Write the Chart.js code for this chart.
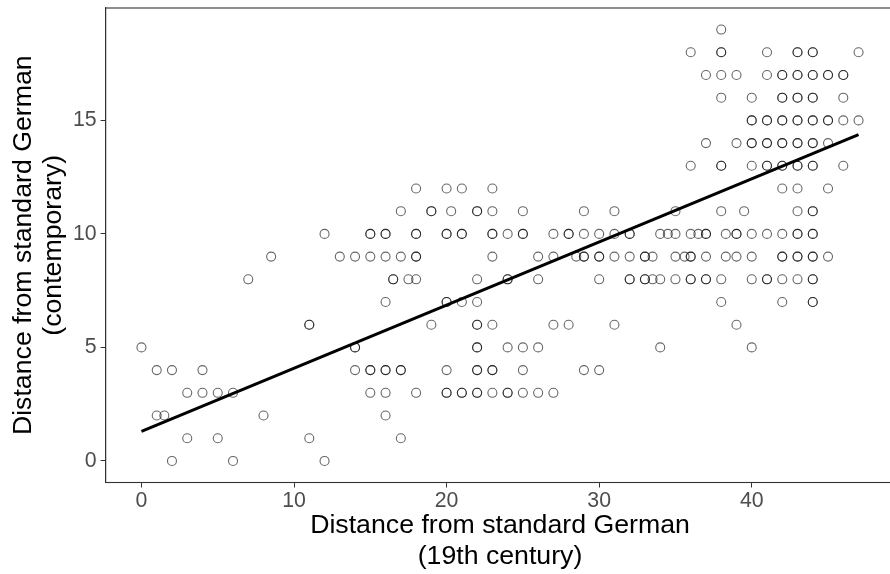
<!DOCTYPE html>
<html>
<head>
<meta charset="utf-8">
<script src="https://cdn.jsdelivr.net/npm/chart.js@4"></script>
<style>
  html, body { margin: 0; padding: 0; background: #fff; overflow: hidden; }
  #wrap { width: 900px; height: 574px; }
</style>
</head>
<body>
<div id="wrap"><canvas id="dialect-chart"></canvas></div>
<script>
// distance from standard German: 19th century (x) vs contemporary (y)
const yLevels = [0, 1, 2, 3, 4, 5, 6, 7, 8, 9, 10, 11, 12, 13, 14, 15, 16, 17, 18, 19]
const xByLevel = [
    [2, 6, 12],
    [3, 5, 11, 17],
    [1, 1.5, 8, 16],
    [3, 4, 5, 6, 15, 16, 18, 20, 21, 22, 23, 24, 25, 26, 27],
    [1, 2, 4, 14, 15, 16, 17, 20, 22, 23, 25, 29, 30],
    [0, 14, 22, 24, 25, 26, 34, 40],
    [11, 19, 22, 23, 27, 28, 31, 39],
    [16, 20, 21, 22, 38, 42, 44],
    [7, 16.5, 17.5, 18, 22, 24, 26, 30, 32, 33, 33.5, 34, 35, 36, 37, 38, 40, 41, 42, 43, 44],
    [8.5, 13, 14, 15, 16, 17, 18, 23, 26, 27, 28.5, 29, 30, 31, 32, 33, 33.5, 35, 35.6, 36, 37, 38.3, 39, 40, 42, 43, 44, 45],
    [12, 15, 16, 18, 20, 21, 23, 24, 25, 27, 28, 29, 30, 31, 32, 34, 34.5, 35, 36, 36.5, 37, 38.3, 39, 40, 41, 42, 43, 44],
    [17, 19, 20.3, 22, 23, 25, 29, 31, 35, 38, 39.5, 43, 44],
    [18, 20, 21, 23, 42, 43, 45],
    [36, 38, 40, 41, 42, 43, 44, 46],
    [37, 39, 40, 41, 42, 43, 44, 45],
    [40, 41, 42, 43, 44, 45, 46, 47],
    [38, 40, 42, 43, 44, 46],
    [37, 38, 39, 41, 42, 43, 44, 45, 46],
    [36, 38, 41, 43, 44, 47],
    [38]
]
// places where two observations fall on the same spot (darker rings)
const doubledByLevel = [
    [], [], [],
    [20, 21, 22, 24],
    [15, 16, 17, 22, 23],
    [14, 22],
    [11, 22],
    [20, 44],
    [16.5, 24, 32, 33, 36, 37, 41, 44],
    [18, 29, 30, 33, 36, 42, 43, 44],
    [15, 16, 18, 20, 21, 23, 25, 28, 32, 37, 39, 43, 44],
    [19, 22, 44],
    [],
    [38, 41, 42, 43, 44],
    [40, 41, 42, 43, 44],
    [40, 41, 42, 43, 44, 45],
    [42, 43, 44],
    [42, 43, 44, 45, 46],
    [38, 43, 44],
    []
]
// fitted line end points
const fitX = [0, 47]
const fitY = [1.30, 14.37]

const xTicks = [0, 10, 20, 30, 40]
const yTicks = [0, 5, 10, 15]

let points = []
for (let i = 0; i < yLevels.length; i++) {
    for (const x of xByLevel[i]) {
        points.push({x: x, y: yLevels[i]})
    }
    for (const x of doubledByLevel[i]) {
        points.push({x: x, y: yLevels[i]})
    }
}
const fitLine = fitX.map((x, i) => ({x: x, y: fitY[i]}))

const frame = {
    id: 'frame',
    afterDatasetsDraw(chart) {
        const {ctx, chartArea: a} = chart
        ctx.save()
        ctx.strokeStyle = '#333333'
        ctx.lineWidth = 1.1
        ctx.strokeRect(a.left, a.top, a.right - a.left, a.bottom - a.top)
        ctx.restore()
    }
}

const fontFamily = '"Liberation Sans", Arial, sans-serif'

new Chart(document.getElementById('dialect-chart'), {
    type: 'scatter',
    data: {
        datasets: [{
            type: 'line',
            data: fitLine,
            borderColor: '#000000',
            borderWidth: 3,
            pointRadius: 0,
            fill: false,
            order: 0
        }, {
            data: points,
            pointRadius: 4.5,
            pointBorderWidth: 1.1,
            borderColor: 'rgba(0, 0, 0, 0.6)',
            backgroundColor: 'rgba(0, 0, 0, 0)',
            order: 1
        }]
    },
    options: {
        responsive: true,
        maintainAspectRatio: false,
        animation: false,
        layout: {padding: {top: 8, right: 0, bottom: 0, left: 0}},
        plugins: {legend: {display: false}, tooltip: {enabled: false}},
        scales: {
            x: {
                type: 'linear',
                min: -2.35,
                max: 49.35,
                afterBuildTicks: (s) => { s.ticks = xTicks.map(v => ({value: v})) },
                afterFit: (s) => { s.height = 91.5; s.paddingLeft = 0; s.paddingRight = 0 },
                grid: {drawOnChartArea: false, drawTicks: true, tickLength: 5, color: '#333333'},
                border: {display: true, color: '#333333', width: 1.1},
                ticks: {color: '#4d4d4d', padding: 1, font: {family: fontFamily, size: 21.3}},
                title: {
                    display: true,
                    text: ['Distance from standard German', '(19th century)'],
                    color: '#000000',
                    padding: {top: 0, bottom: 2},
                    font: {family: fontFamily, size: 26.7, lineHeight: 1.15}
                }
            },
            y: {
                type: 'linear',
                min: -0.95,
                max: 19.95,
                afterBuildTicks: (s) => { s.ticks = yTicks.map(v => ({value: v})) },
                afterFit: (s) => { s.width = 105.6; s.paddingTop = 0; s.paddingBottom = 0 },
                grid: {drawOnChartArea: false, drawTicks: true, tickLength: 5, color: '#333333'},
                border: {display: true, color: '#333333', width: 1.1},
                ticks: {color: '#4d4d4d', padding: 4, font: {family: fontFamily, size: 21.3}},
                title: {
                    display: true,
                    text: ['Distance from standard German', '(contemporary)'],
                    color: '#000000',
                    padding: {top: 8, bottom: 0},
                    font: {family: fontFamily, size: 26.7, lineHeight: 1.15}
                }
            }
        }
    },
    plugins: [frame]
})
</script>
</body>
</html>
